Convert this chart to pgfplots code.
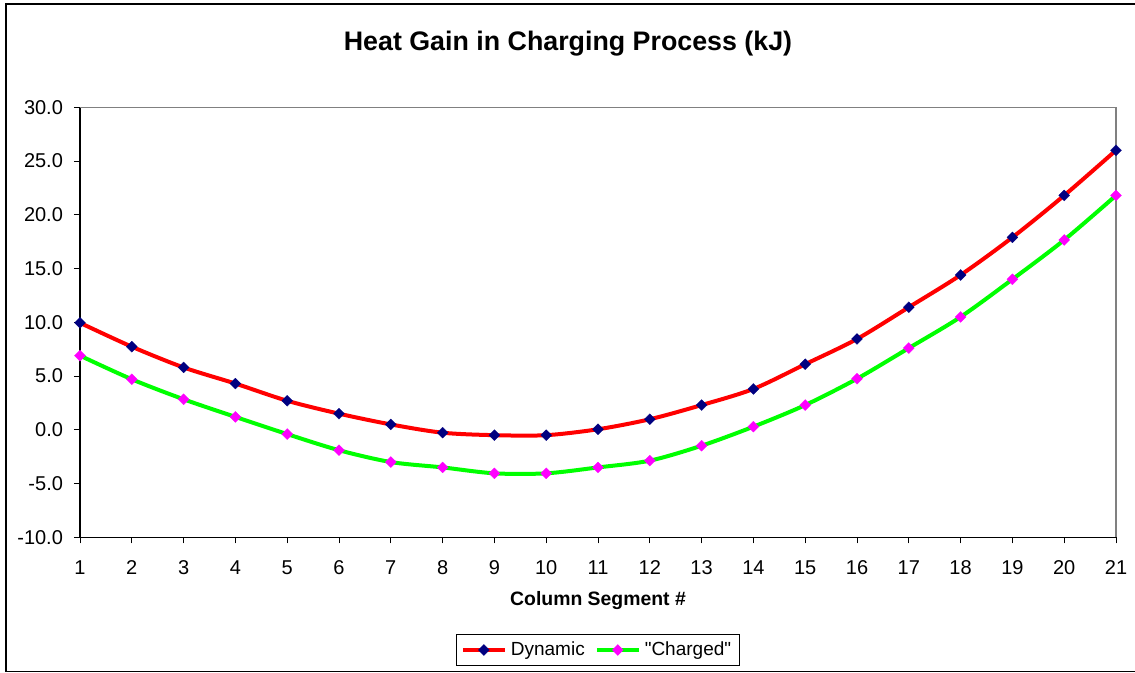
\documentclass[border=0pt]{standalone}
\usepackage{pgfplots}
\pgfplotsset{compat=1.18}
\usepackage{fontspec}
\setmainfont{Liberation Sans}
\newfontfamily\rawfont{Liberation Sans}[Ligatures=TeXOff]
\definecolor{navymk}{RGB}{0,0,128}
\definecolor{magmk}{RGB}{255,0,255}
\definecolor{redln}{RGB}{255,0,0}
\definecolor{grnln}{RGB}{0,255,0}
\begin{document}
\begin{tikzpicture}
\path[use as bounding box] (0,0) rectangle (567.5pt,336.5pt);
\draw[line width=0.7pt] (570pt,334.5pt) -- (3pt,334.5pt) -- (3pt,0.6pt) -- (570pt,0.6pt);
\node[font=\bfseries\fontsize{13.4}{15}\selectfont] at (284pt,314.5pt) {Heat Gain in Charging Process (kJ)};
\begin{axis}[
  at={(40pt,67.85pt)}, anchor=south west,
  scale only axis, width=518pt, height=215pt,
  xmin=1, xmax=21, ymin=-10, ymax=30,
  xtick={1,...,21}, ytick={-10,-5,...,30},
  axis lines*=left,
  axis line style={black, line width=0.6pt},
  tick align=outside, major tick length=3pt,
  tick style={black, line width=0.5pt},
  tick label style={font=\fontsize{10}{11}\selectfont},
  /pgf/number format/assume math mode=true,
  yticklabel style={/pgf/number format/fixed, /pgf/number format/fixed zerofill, /pgf/number format/precision=1, xshift=-2pt},
  xticklabel style={yshift=-5pt},
  xlabel={\bfseries Column Segment \#},
  xlabel style={font=\fontsize{9.7}{11}\selectfont, at={(rel axis cs:0.5,0)}, anchor=center, yshift=-31.4pt},
  clip=false,
  legend columns=2,
  legend style={at={(rel axis cs:0.5,0)}, anchor=center, yshift=-56.35pt,
    font=\fontsize{9.5}{10.5}\selectfont, draw=black, line width=0.6pt,
    inner xsep=2pt, inner ysep=1.5pt,
    /tikz/every even column/.append style={column sep=3pt}},
  legend image code/.code={
    \draw[#1, mark repeat=2, mark phase=2] plot coordinates {(0pt,0pt) (10.5pt,0pt) (21pt,0pt)};
  },
]
\draw[gray, line width=0.6pt] (rel axis cs:0,1) -- (rel axis cs:1,1) -- (rel axis cs:1,0);
\addplot[redln, line width=2pt, smooth, tension=0.5, mark=square*, mark size=1.95pt,
  mark options={navymk, fill=navymk, rotate=45, line width=0.1pt, solid}]
coordinates {
(1,9.95) (2,7.73) (3,5.8) (4,4.3) (5,2.7) (6,1.5) (7,0.5) (8,-0.27) (9,-0.5) (10,-0.5)
(11,0.05) (12,0.98) (13,2.3) (14,3.8) (15,6.1) (16,8.45) (17,11.4) (18,14.4) (19,17.9) (20,21.8) (21,26.0)
};
\addlegendentry{Dynamic}
\addplot[grnln, line width=2pt, smooth, tension=0.5, mark=square*, mark size=1.95pt,
  mark options={magmk, fill=magmk, rotate=45, line width=0.1pt, solid}]
coordinates {
(1,6.9) (2,4.7) (3,2.84) (4,1.2) (5,-0.4) (6,-1.9) (7,-3.0) (8,-3.5) (9,-4.05) (10,-4.05)
(11,-3.5) (12,-2.87) (13,-1.48) (14,0.29) (15,2.3) (16,4.75) (17,7.6) (18,10.5) (19,14.0) (20,17.66) (21,21.8)
};
\addlegendentry{{\rawfont "Charged"}}
\end{axis}
\end{tikzpicture}
\end{document}
